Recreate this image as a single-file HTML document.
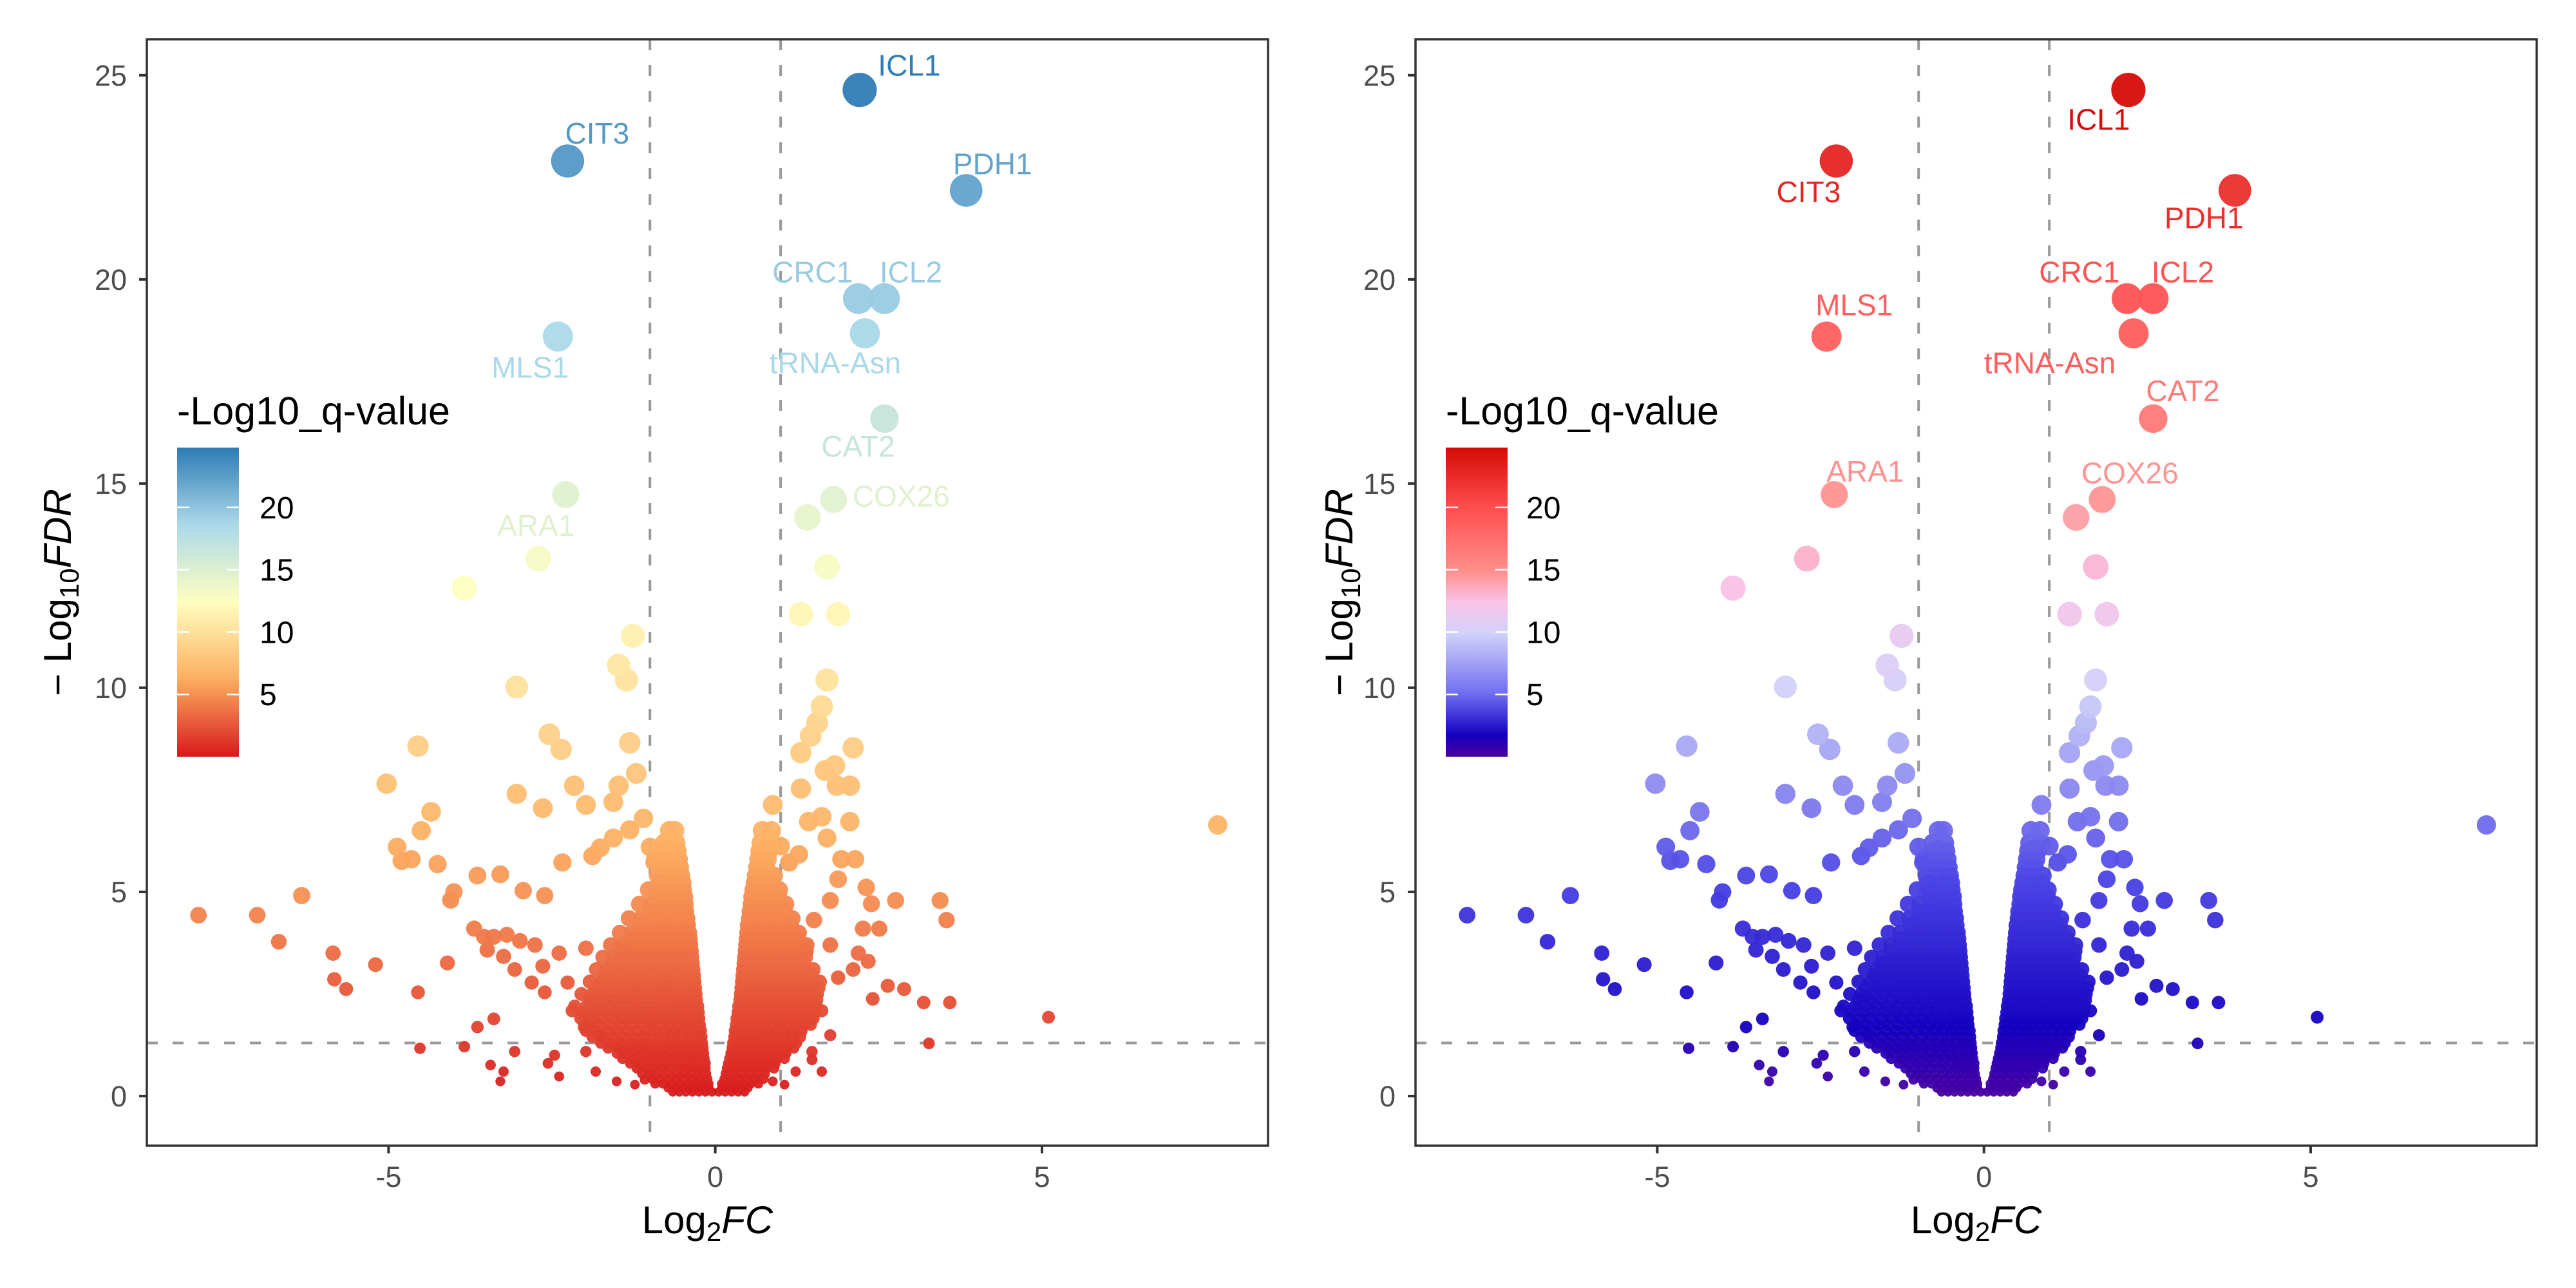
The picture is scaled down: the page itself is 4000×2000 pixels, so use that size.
<!DOCTYPE html>
<html><head><meta charset="utf-8">
<style>
html,body{margin:0;padding:0;background:#fff;}
svg{display:block;font-family:"Liberation Sans",Arial,sans-serif;}
</style></head>
<body>
<svg id="chart" width="4000" height="2000" viewBox="0 0 4000 2000" xmlns="http://www.w3.org/2000/svg">
<rect width="4000" height="2000" fill="#fff"/>
<defs>
<linearGradient id="gradL" x1="0" y1="1" x2="0" y2="0">
<stop offset="0" stop-color="#d7191c"/><stop offset="0.25" stop-color="#fdae61"/><stop offset="0.5" stop-color="#ffffbf"/><stop offset="0.75" stop-color="#abd9e9"/><stop offset="1" stop-color="#2c7bb6"/>
</linearGradient>
<linearGradient id="gradR" x1="0" y1="1" x2="0" y2="0">
<stop offset="0" stop-color="#4a00a0"/><stop offset="0.07" stop-color="#1400c0"/><stop offset="0.2" stop-color="#6d6cf0"/><stop offset="0.4" stop-color="#d2d2fa"/><stop offset="0.5" stop-color="#f9c2e8"/><stop offset="0.6" stop-color="#ff8f8a"/><stop offset="0.8" stop-color="#ff5050"/><stop offset="1" stop-color="#d40b06"/>
</linearGradient>
</defs>
<g id="left"></g>
<g id="right"></g>
</svg>
<script>
// ---------- data ----------
const xTicks = [-5, 0, 5];
const yTicks = [0, 5, 10, 15, 20, 25];
const legendTicks = [5, 10, 15, 20];
const fcCutoff = [-1, 1];
const fdrCutoff = 1.301;
const xDomain = [-8.70, 8.46];
const yDomain = [-1.215, 25.88];
const colorDomain = [0, 24.8];

// core band rows: FDR level per row, and log2FC values in that row
const coreRowFDR = [0.1,0.2,0.3,0.42,0.55,0.68,0.8,0.92,1.05,1.18,1.3,1.45,1.6,1.75,1.9,2.05,2.2,2.35,2.5,2.65,2.8,2.95,3.1,3.25,3.4,3.55,3.7,3.85,4.0,4.18,4.35,4.52,4.7,4.88,5.05,5.22,5.4,5.6,5.8,6.0,6.2,6.5];
const coreLeftFC = [
[-0.05,-0.15,-0.25,-0.35,-0.45,-0.55,-0.65],
[-0.1,-0.2,-0.3,-0.4,-0.5,-0.6,-0.72],
[-0.1,-0.2,-0.3,-0.42,-0.55,-0.68,-0.8,-0.92],
[-0.12,-0.24,-0.36,-0.48,-0.6,-0.72,-0.85,-0.97],
[-0.14,-0.26,-0.38,-0.5,-0.62,-0.75,-0.88,-1.0,-1.12],
[-0.15,-0.27,-0.4,-0.53,-0.66,-0.8,-0.93,-1.06,-1.2],
[-0.15,-0.28,-0.4,-0.52,-0.65,-0.78,-0.9,-1.03,-1.16,-1.3],
[-0.17,-0.3,-0.43,-0.57,-0.7,-0.84,-0.98,-1.12,-1.26,-1.42],
[-0.18,-0.3,-0.43,-0.56,-0.7,-0.83,-0.96,-1.1,-1.24,-1.38,-1.5],
[-0.19,-0.33,-0.47,-0.61,-0.75,-0.9,-1.04,-1.18,-1.33,-1.48,-1.64],
[-0.2,-0.33,-0.46,-0.6,-0.74,-0.88,-1.02,-1.16,-1.3,-1.45,-1.6,-1.75],
[-0.21,-0.35,-0.5,-0.64,-0.79,-0.94,-1.09,-1.24,-1.4,-1.56,-1.72,-1.88],
[-0.22,-0.36,-0.5,-0.64,-0.78,-0.92,-1.06,-1.2,-1.35,-1.5,-1.65,-1.82,-1.98],
[-0.24,-0.38,-0.53,-0.68,-0.83,-0.98,-1.14,-1.3,-1.46,-1.62,-1.8,-1.96],
[-0.25,-0.39,-0.53,-0.68,-0.82,-0.97,-1.12,-1.27,-1.42,-1.58,-1.74,-1.9,-2.06],
[-0.26,-0.41,-0.56,-0.71,-0.87,-1.03,-1.19,-1.35,-1.51,-1.68,-1.85,-2.02],
[-0.27,-0.42,-0.57,-0.72,-0.87,-1.02,-1.17,-1.33,-1.49,-1.65,-1.81,-1.97,-2.15],
[-0.29,-0.44,-0.59,-0.75,-0.91,-1.07,-1.23,-1.4,-1.57,-1.74,-1.92],
[-0.3,-0.45,-0.6,-0.75,-0.9,-1.06,-1.22,-1.38,-1.54,-1.7,-1.88,-2.05],
[-0.31,-0.46,-0.62,-0.78,-0.94,-1.1,-1.27,-1.44,-1.62,-1.8],
[-0.32,-0.47,-0.62,-0.78,-0.94,-1.1,-1.26,-1.42,-1.58,-1.75,-1.92],
[-0.33,-0.49,-0.65,-0.81,-0.98,-1.15,-1.32,-1.5,-1.68],
[-0.34,-0.5,-0.66,-0.82,-0.98,-1.14,-1.3,-1.47,-1.64,-1.82],
[-0.35,-0.51,-0.68,-0.85,-1.02,-1.2,-1.38,-1.56],
[-0.36,-0.52,-0.68,-0.85,-1.02,-1.19,-1.36,-1.54,-1.72],
[-0.37,-0.54,-0.71,-0.88,-1.06,-1.24,-1.42],
[-0.38,-0.55,-0.72,-0.89,-1.06,-1.24,-1.42,-1.6],
[-0.39,-0.56,-0.73,-0.91,-1.09,-1.28],
[-0.4,-0.57,-0.74,-0.92,-1.1,-1.28,-1.46],
[-0.42,-0.59,-0.77,-0.95,-1.13],
[-0.43,-0.6,-0.78,-0.96,-1.14,-1.32],
[-0.45,-0.62,-0.8,-0.98],
[-0.46,-0.63,-0.8,-0.98,-1.16],
[-0.47,-0.65,-0.83],
[-0.49,-0.66,-0.84,-1.02],
[-0.5,-0.68,-0.86],
[-0.52,-0.7,-0.88],
[-0.54,-0.72],
[-0.56,-0.74,-0.92],
[-0.58,-0.76],
[-0.6,-0.78],
[-0.62,-0.7]];
const coreRightFC = [
[0.05,0.15,0.25,0.35,0.45],
[0.1,0.2,0.3,0.4,0.5],
[0.1,0.2,0.3,0.42,0.54,0.66],
[0.14,0.26,0.38,0.5,0.62,0.74],
[0.16,0.28,0.4,0.52,0.64,0.76],
[0.18,0.3,0.42,0.54,0.66,0.78,0.9],
[0.2,0.32,0.44,0.56,0.68,0.8,0.92],
[0.22,0.34,0.46,0.58,0.7,0.82,0.94,1.06],
[0.24,0.36,0.48,0.6,0.72,0.84,0.96,1.08],
[0.26,0.38,0.5,0.62,0.74,0.86,0.98,1.1,1.2],
[0.27,0.4,0.52,0.64,0.76,0.88,1.0,1.12,1.24],
[0.29,0.41,0.54,0.66,0.79,0.92,1.05,1.18,1.3],
[0.3,0.42,0.55,0.68,0.8,0.93,1.06,1.19,1.32],
[0.32,0.45,0.58,0.71,0.84,0.97,1.1,1.23,1.36,1.46],
[0.33,0.46,0.59,0.72,0.85,0.98,1.11,1.24,1.37,1.5],
[0.35,0.48,0.61,0.74,0.87,1.0,1.13,1.26,1.4,1.52],
[0.36,0.49,0.62,0.75,0.88,1.01,1.14,1.27,1.4,1.53],
[0.38,0.51,0.64,0.77,0.9,1.03,1.16,1.29,1.42,1.55],
[0.39,0.52,0.65,0.78,0.91,1.04,1.17,1.3,1.43,1.56],
[0.4,0.53,0.66,0.79,0.92,1.05,1.18,1.31,1.45,1.58],
[0.41,0.54,0.67,0.8,0.93,1.06,1.19,1.32,1.46,1.6],
[0.42,0.55,0.68,0.81,0.94,1.07,1.2,1.34,1.48],
[0.43,0.56,0.69,0.82,0.95,1.08,1.21,1.35,1.5],
[0.44,0.57,0.7,0.83,0.96,1.09,1.22,1.36],
[0.45,0.58,0.71,0.84,0.97,1.1,1.24,1.38],
[0.46,0.59,0.72,0.85,0.98,1.11,1.25,1.39],
[0.47,0.6,0.73,0.86,0.99,1.12,1.26,1.4],
[0.48,0.61,0.74,0.87,1.0,1.13,1.27],
[0.49,0.62,0.75,0.88,1.01,1.14,1.28],
[0.5,0.63,0.76,0.89,1.02,1.16],
[0.52,0.65,0.78,0.91,1.04,1.18],
[0.53,0.66,0.79,0.92,1.06],
[0.55,0.68,0.81,0.94,1.08],
[0.56,0.7,0.84,0.97],
[0.58,0.71,0.84,0.98],
[0.6,0.74,0.88],
[0.62,0.76,0.9],
[0.64,0.78],
[0.66,0.8],
[0.68,0.82],
[0.7,0.84],
[0.72,0.86]];
// scattered genes
const scatterX = [
-2.71,-3.84,-1.26,-1.48,-1.36,-3.04,-2.54,-2.36,-1.31,-4.55,-5.03,-1.21,
-2.16,-1.98,-1.56,-1.48,-3.04,-2.64,-4.35,-4.5,-4.87,-4.65,-4.8,-4.25,-3.64,-4.05,-4.0,-3.29,-2.94,-2.61,-2.34,-1.88,-1.76,-1.56,-1.31,-1.1,-1.0,-0.93,
-3.69,-3.54,-3.39,-3.19,-2.99,-3.49,-3.24,-2.76,-3.07,-2.64,-2.39,-1.98,-2.61,-2.81,-3.39,-3.84,-3.64,-3.44,-3.24,-3.29,-3.07,-2.56,-2.39,-2.46,-1.98,-1.83,-1.76,-1.51,-1.23,-1.08,-2.01,-2.19,-1.83,-2.26,
-7.91,-7.01,-6.68,-6.33,-5.85,-5.83,-5.65,-5.2,-4.55,-4.52,-4.1,
1.41,1.71,1.31,1.88,1.71,1.63,1.56,1.46,1.31,2.11,1.83,1.86,2.06,1.68,
1.31,0.88,1.43,1.63,1.71,2.06,2.14,1.93,2.31,2.39,2.76,2.51,2.26,2.19,2.11,2.34,2.64,2.89,2.41,3.19,3.59,3.27,5.1,7.69,3.44,3.54,1.76,1.88,1.13,1.0,1.28,1.51,1.76,1.88,1.63,1.76,1.48,1.23,1.06,0.88,1.63,1.48];
const scatterY = [
13.16,12.44,11.27,10.55,10.19,10.02,8.86,8.49,8.65,8.57,7.65,7.9,
7.6,7.13,7.2,7.6,7.4,7.05,6.96,6.5,6.1,5.8,5.76,5.68,5.4,4.8,5.0,5.43,5.03,4.91,5.72,5.88,6.08,6.32,6.52,6.8,6.1,5.72,
4.1,3.9,3.9,3.95,3.8,3.58,3.42,3.7,3.1,3.18,3.5,3.62,2.54,2.78,1.89,1.21,1.69,0.76,0.6,0.36,1.09,0.8,0.48,1.0,1.09,0.6,1.49,0.36,0.28,0.4,1.69,2.09,2.42,2.78,
4.43,4.43,3.78,4.91,3.5,2.86,2.62,3.22,2.54,1.17,3.26,
14.17,12.96,11.8,11.8,10.19,9.54,9.14,8.82,8.41,8.53,8.09,7.6,7.6,7.97,
7.53,7.13,6.72,6.84,6.32,6.72,5.8,5.8,5.11,4.71,4.79,4.1,4.1,3.5,3.1,3.3,2.7,2.62,2.38,2.29,2.29,1.29,1.93,6.64,4.79,4.31,4.79,5.31,5.72,6.12,5.92,4.31,3.7,2.9,2.09,1.49,0.89,0.6,0.28,0.36,0.6,1.09];
// labelled genes
const geneNames = ["ICL1","CIT3","PDH1","CRC1","ICL2","tRNA-Asn","MLS1","CAT2","ARA1","COX26"];
const geneFC    = [2.21,-2.26,3.84,2.19,2.59,2.29,-2.41,2.59,-2.29,1.81];
const geneFDR   = [24.64,22.9,22.18,19.53,19.53,18.68,18.6,16.59,14.73,14.61];

// ---------- layout (not data) ----------
const panels = [
 {id:'left', x0:228, x1:1969, grad:'gradL', legX:275, legLabX:403, yTitleX:89,
  stops:[[0,'#d7191c'],[0.25,'#fdae61'],[0.5,'#ffffbf'],[0.75,'#abd9e9'],[1,'#2c7bb6']],
  lab:[[77,-38],[46,-43],[41,-41],[-71,-41],[41,-41],[-46,46],[-43,48],[-41,43],[-46,48],[105,-5]]},
 {id:'right', x0:2198, x1:3939, grad:'gradR', legX:2245, legLabX:2370, yTitleX:2079,
  stops:[[0,'#4a00a0'],[0.07,'#1400c0'],[0.22,'#4c46e6'],[0.4,'#d2d2fa'],[0.5,'#f9c2e8'],[0.6,'#ff8f8a'],[0.8,'#ff5050'],[1,'#d40b06']],
  lab:[[-46,46],[-43,48],[-48,43],[-74,-41],[46,-41],[-130,46],[43,-49],[46,-43],[48,-36],[43,-41]]}
];
const TOP = 61, BOT = 1779;
const NS = 'http://www.w3.org/2000/svg';
function mk(tag, attrs, parent){const e=document.createElementNS(NS,tag);for(const k in attrs)e.setAttribute(k,attrs[k]);if(parent)parent.appendChild(e);return e;}
function hex(c){return [parseInt(c.slice(1,3),16),parseInt(c.slice(3,5),16),parseInt(c.slice(5,7),16)];}
function colorAt(stops,v){
  let t=(v-colorDomain[0])/(colorDomain[1]-colorDomain[0]);t=Math.max(0,Math.min(1,t));
  for(let i=1;i<stops.length;i++){ if(t<=stops[i][0]){const a=stops[i-1],b=stops[i];const f=(t-a[0])/(b[0]-a[0]);const ca=hex(a[1]),cb=hex(b[1]);
    return 'rgb('+ca.map((c,j)=>Math.round(c+(cb[j]-c)*f)).join(',')+')';}}
  return stops[stops.length-1][1];
}
const allX = [], allY = [];
[coreLeftFC, coreRightFC].forEach(side=>side.forEach((row,i)=>row.forEach(x=>{allX.push(x);allY.push(coreRowFDR[i]);})));
scatterX.forEach((x,i)=>{allX.push(x);allY.push(scatterY[i]);});
geneFC.forEach((x,i)=>{allX.push(x);allY.push(geneFDR[i]);});
const order = allY.map((v,i)=>i).sort((a,b)=>allY[a]-allY[b]);

panels.forEach(p=>{
  const g=document.getElementById(p.id);
  const sx=v=>p.x0+(v-xDomain[0])/(xDomain[1]-xDomain[0])*(p.x1-p.x0);
  const sy=v=>BOT-(v-yDomain[0])/(yDomain[1]-yDomain[0])*(BOT-TOP);
  fcCutoff.forEach(c=>{
    const l=mk('line',{x1:sx(c),x2:sx(c),y1:TOP,y2:BOT,stroke:'#999',"stroke-width":4,"stroke-dasharray":'17 23'},g);
    
    
  });
  const h=mk('line',{x1:p.x0,x2:p.x1,y1:sy(fdrCutoff),y2:sy(fdrCutoff),stroke:'#999',"stroke-width":4,"stroke-dasharray":'17 23'},g);
  
  
  const pg=mk('g',{},g);
  
  
  order.forEach(i=>{
    const r=Math.sqrt(48+26.8*Math.max(0,allY[i]));
    const c=mk('circle',{cx:sx(allX[i]),cy:sy(allY[i]),r:r,fill:colorAt(p.stops,allY[i]),"fill-opacity":0.95},pg);
    
    
  });
  geneNames.forEach((n,i)=>{
    const t=mk('text',{x:sx(geneFC[i])+p.lab[i][0],y:sy(geneFDR[i])+p.lab[i][1]+16,"text-anchor":'middle',"font-size":46,fill:colorAt(p.stops,geneFDR[i])},g);
    t.textContent=n;
    
    
  });
  const fr=mk('rect',{x:p.x0,y:TOP,width:p.x1-p.x0,height:BOT-TOP,fill:'none',stroke:'#333',"stroke-width":3.5},g);
  
  
  xTicks.forEach(v=>{
    const tk=mk('line',{x1:sx(v),x2:sx(v),y1:BOT,y2:BOT+12,stroke:'#333',"stroke-width":4},g);
    
    
    const tl=mk('text',{x:sx(v),y:1843,"text-anchor":'middle',"font-size":45,fill:'#4d4d4d'},g);
    tl.textContent=v<0?'-'+Math.abs(v):String(v);
    
    
  });
  yTicks.forEach(v=>{
    const tk=mk('line',{x1:p.x0-12,x2:p.x0,y1:sy(v),y2:sy(v),stroke:'#333',"stroke-width":4},g);
    
    
    const tl=mk('text',{x:p.x0-31,y:sy(v)+16,"text-anchor":'end',"font-size":45,fill:'#4d4d4d'},g);
    tl.textContent=String(v);
    
    
  });
  const xt=mk('text',{x:(p.x0+p.x1)/2,y:1915,"text-anchor":'middle',"font-size":60,fill:'#000'},g);
  xt.innerHTML='Log<tspan font-size="42" dy="12">2</tspan><tspan dy="-12" font-style="italic">FC</tspan>';
  
  
  const cy=(TOP+BOT)/2;
  const yt=mk('text',{x:p.yTitleX+21,y:cy,transform:'rotate(-90 '+(p.yTitleX+21)+' '+cy+')',"text-anchor":'middle',"font-size":60,fill:'#000'},g);
  yt.innerHTML='\u2212 Log<tspan font-size="42" dy="12">10</tspan><tspan dy="-12" font-style="italic">FDR</tspan>';
  
  
  const lg=mk('g',{},g);
  
  
  const lt=mk('text',{x:p.legX,y:659,"font-size":61,fill:'#000'},lg);
  lt.textContent='-Log10_q-value';
  
  
  const bx=p.legX, bw=96, by0=695, by1=1175;
  const bar=mk('rect',{x:bx,y:by0,width:bw,height:by1-by0,fill:'url(#'+p.grad+')'},lg);
  
  
  const ly=v=>by1-(v-colorDomain[0])/(colorDomain[1]-colorDomain[0])*(by1-by0);
  legendTicks.forEach(v=>{
    mk('line',{x1:bx,x2:bx+19,y1:ly(v),y2:ly(v),stroke:'#fff',"stroke-width":2.5},lg);
    mk('line',{x1:bx+bw-19,x2:bx+bw,y1:ly(v),y2:ly(v),stroke:'#fff',"stroke-width":2.5},lg);
    const tl=mk('text',{x:p.legLabX,y:ly(v)+17,"font-size":48,fill:'#000'},lg);
    tl.textContent=String(v);
    
    
  });
});
</script>
</body></html>
